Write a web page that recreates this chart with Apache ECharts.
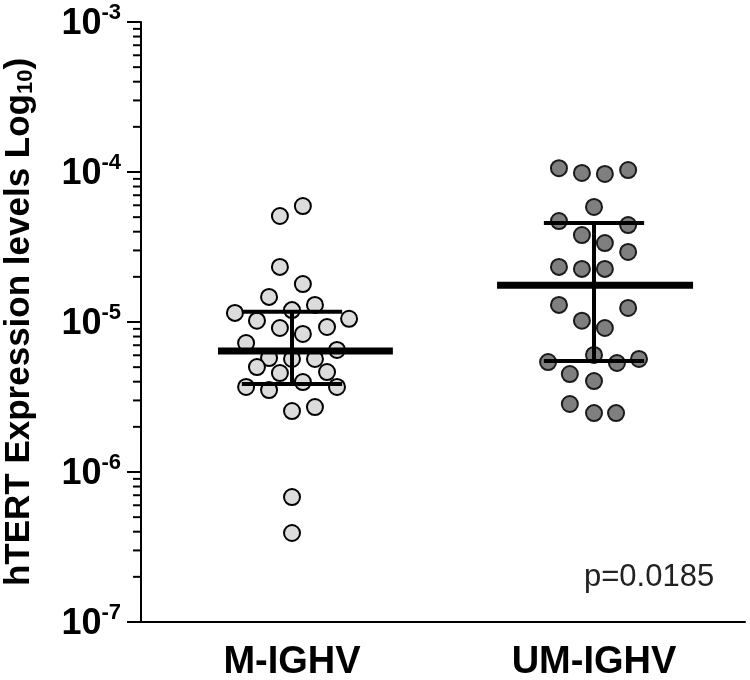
<!DOCTYPE html>
<html>
<head>
<meta charset="utf-8">
<script src="https://cdn.jsdelivr.net/npm/echarts@6/dist/echarts.min.js"></script>
<style>html,body{margin:0;padding:0;background:#fff}#c{width:750px;height:680px}</style>
</head>
<body>
<div id="c"></div>
<script>
const categories = ['M-IGHV', 'UM-IGHV'];
const mValues = [5.09e-5, 5.93e-5, 2.33e-5, 1.79e-5, 1.47e-5, 1.15e-5, 1.20e-5, 1.30e-5, 1.02e-5, 1.05e-5,
  9.12e-6, 9.26e-6, 8.32e-6, 7.24e-6, 6.51e-6, 5.75e-6, 5.67e-6, 5.67e-6, 5.01e-6, 4.57e-6,
  4.64e-6, 3.98e-6, 3.69e-6, 3.52e-6, 3.69e-6, 2.55e-6, 2.71e-6, 6.81e-7, 3.92e-7];
const mJitter = [-0.04, 0.036, -0.04, 0.036, -0.076, -0.189, 0, 0.076, -0.116, 0.189,
  -0.04, 0.116, 0.036, -0.152, 0.149, -0.076, 0, 0.076, -0.116, -0.04,
  0.116, 0.036, -0.152, -0.076, 0.149, 0, 0.076, 0, 0];
const umValues = [1.06e-4, 9.85e-5, 9.70e-5, 1.03e-4, 5.85e-5, 4.71e-5, 4.43e-5, 3.80e-5, 3.36e-5, 2.93e-5,
  2.33e-5, 2.26e-5, 2.26e-5, 1.30e-5, 1.24e-5, 1.02e-5, 9.12e-6, 6.03e-6, 5.41e-6, 5.33e-6,
  5.67e-6, 4.50e-6, 4.04e-6, 2.84e-6, 2.47e-6, 2.47e-6];
const umJitter = [-0.116, -0.04, 0.036, 0.113, 0, -0.116, 0.113, -0.04, 0.036, 0.113,
  -0.116, -0.04, 0.036, -0.116, 0.113, -0.04, 0.036, 0, -0.152, 0.076,
  0.149, -0.08, 0, -0.08, 0, 0.073];
const groupMean = [6.4e-6, 1.76e-5];
const groupLower = [3.86e-6, 5.5e-6];
const groupUpper = [1.17e-5, 4.57e-5];
const yTicks = [1e-7, 1e-6, 1e-5, 1e-4, 1e-3];
const pValueText = 'p=0.0185';

const FONT = "'Liberation Sans', Arial, sans-serif";
const minorTicks = [];
for (let i = 0; i < yTicks.length - 1; i++) {
  for (let k = 2; k <= 9; k++) minorTicks.push([-0.5, yTicks[i] * k]);
}
const meanHalf = [[-0.245, 0.334], [-0.321, 0.328]];
const capHalf = 0.166;

const chart = echarts.init(document.getElementById('c'), null, {renderer: 'canvas'});
chart.setOption({
  animation: false,
  backgroundColor: '#fff',
  grid: {left: 141, right: 5, top: 22, bottom: 58, containLabel: false, outerBoundsMode: 'none'},
  xAxis: [
    {
      type: 'category', data: categories, boundaryGap: true,
      axisLine: {lineStyle: {color: '#000', width: 2}},
      axisTick: {alignWithLabel: true, length: 8, lineStyle: {color: '#000', width: 2}},
      axisLabel: {fontSize: 38, fontWeight: 'bold', color: '#000', margin: 22, fontFamily: FONT},
      splitLine: {show: false}
    },
    {type: 'value', min: -0.5, max: 1.5, show: false}
  ],
  yAxis: {
    type: 'log', logBase: 10, min: 1e-7, max: 1e-3, splitNumber: 4,
    axisLine: {show: true, onZero: false, lineStyle: {color: '#000', width: 2}},
    axisTick: {show: true, length: 14, lineStyle: {color: '#000', width: 2}},
    splitLine: {show: false},
    axisLabel: {
      margin: 20,
      formatter: function (v) {
        const e = Math.round(Math.log10(v));
        return '{b|10}{s|' + e + '}';
      },
      rich: {
        b: {fontSize: 36, fontWeight: 'bold', color: '#000', fontFamily: FONT, verticalAlign: 'bottom', lineHeight: 40},
        s: {fontSize: 22, fontWeight: 'bold', color: '#000', fontFamily: FONT, verticalAlign: 'top', lineHeight: 40}
      }
    },
    name: '{n|hTERT Expression levels Log}{sub|10}{n|)}',
    nameLocation: 'middle', nameRotate: 90, nameGap: 104,
    nameTextStyle: {
      rich: {
        n: {fontSize: 35, fontWeight: 'bold', color: '#000', fontFamily: FONT, verticalAlign: 'bottom', lineHeight: 32},
        sub: {fontSize: 22, fontWeight: 'bold', color: '#000', fontFamily: FONT, verticalAlign: 'bottom', lineHeight: 28}
      }
    }
  },
  graphic: [{
    type: 'text', left: 584, top: 562,
    style: {text: pValueText, fontSize: 31, fill: '#222', fontFamily: FONT}
  }],
  series: [
    {
      type: 'scatter', xAxisIndex: 1, clip: false, z: 10, silent: true,
      data: minorTicks,
      symbol: 'rect', symbolSize: [8, 2], symbolOffset: [-4, 0],
      itemStyle: {color: '#000', opacity: 1}
    },
    {
      type: 'scatter', xAxisIndex: 1, z: 2,
      data: mValues.map((v, i) => [mJitter[i], v]),
      symbolSize: 16,
      itemStyle: {color: '#dcdcdc', borderColor: '#000', borderWidth: 2, opacity: 1}
    },
    {
      type: 'scatter', xAxisIndex: 1, z: 2,
      data: umValues.map((v, i) => [1 + umJitter[i], v]),
      symbolSize: 16,
      itemStyle: {color: '#7f7f7f', borderColor: '#1a1a1a', borderWidth: 2, opacity: 1}
    },
    {
      type: 'custom', xAxisIndex: 1, z: 5,
      data: categories.map((c, i) => [i, groupMean[i], groupLower[i], groupUpper[i]]),
      renderItem: function (params, api) {
        const i = api.value(0);
        const m = api.value(1), lo = api.value(2), hi = api.value(3);
        const ml = api.coord([i + meanHalf[i][0], m]);
        const mr = api.coord([i + meanHalf[i][1], m]);
        const top = api.coord([i, hi]);
        const bot = api.coord([i, lo]);
        const cl = api.coord([i - capHalf, hi]);
        const cr = api.coord([i + capHalf, hi]);
        const bl = api.coord([i - capHalf, lo]);
        const br = api.coord([i + capHalf, lo]);
        const st = {stroke: '#000', lineWidth: 4};
        return {type: 'group', children: [
          {type: 'line', shape: {x1: top[0], y1: top[1], x2: bot[0], y2: bot[1]}, style: st},
          {type: 'line', shape: {x1: cl[0], y1: cl[1], x2: cr[0], y2: cr[1]}, style: st},
          {type: 'line', shape: {x1: bl[0], y1: bl[1], x2: br[0], y2: br[1]}, style: st},
          {type: 'line', shape: {x1: ml[0], y1: ml[1], x2: mr[0], y2: mr[1]}, style: {stroke: '#000', lineWidth: 7}}
        ]};
      }
    }
  ]
});
</script>
</body>
</html>
